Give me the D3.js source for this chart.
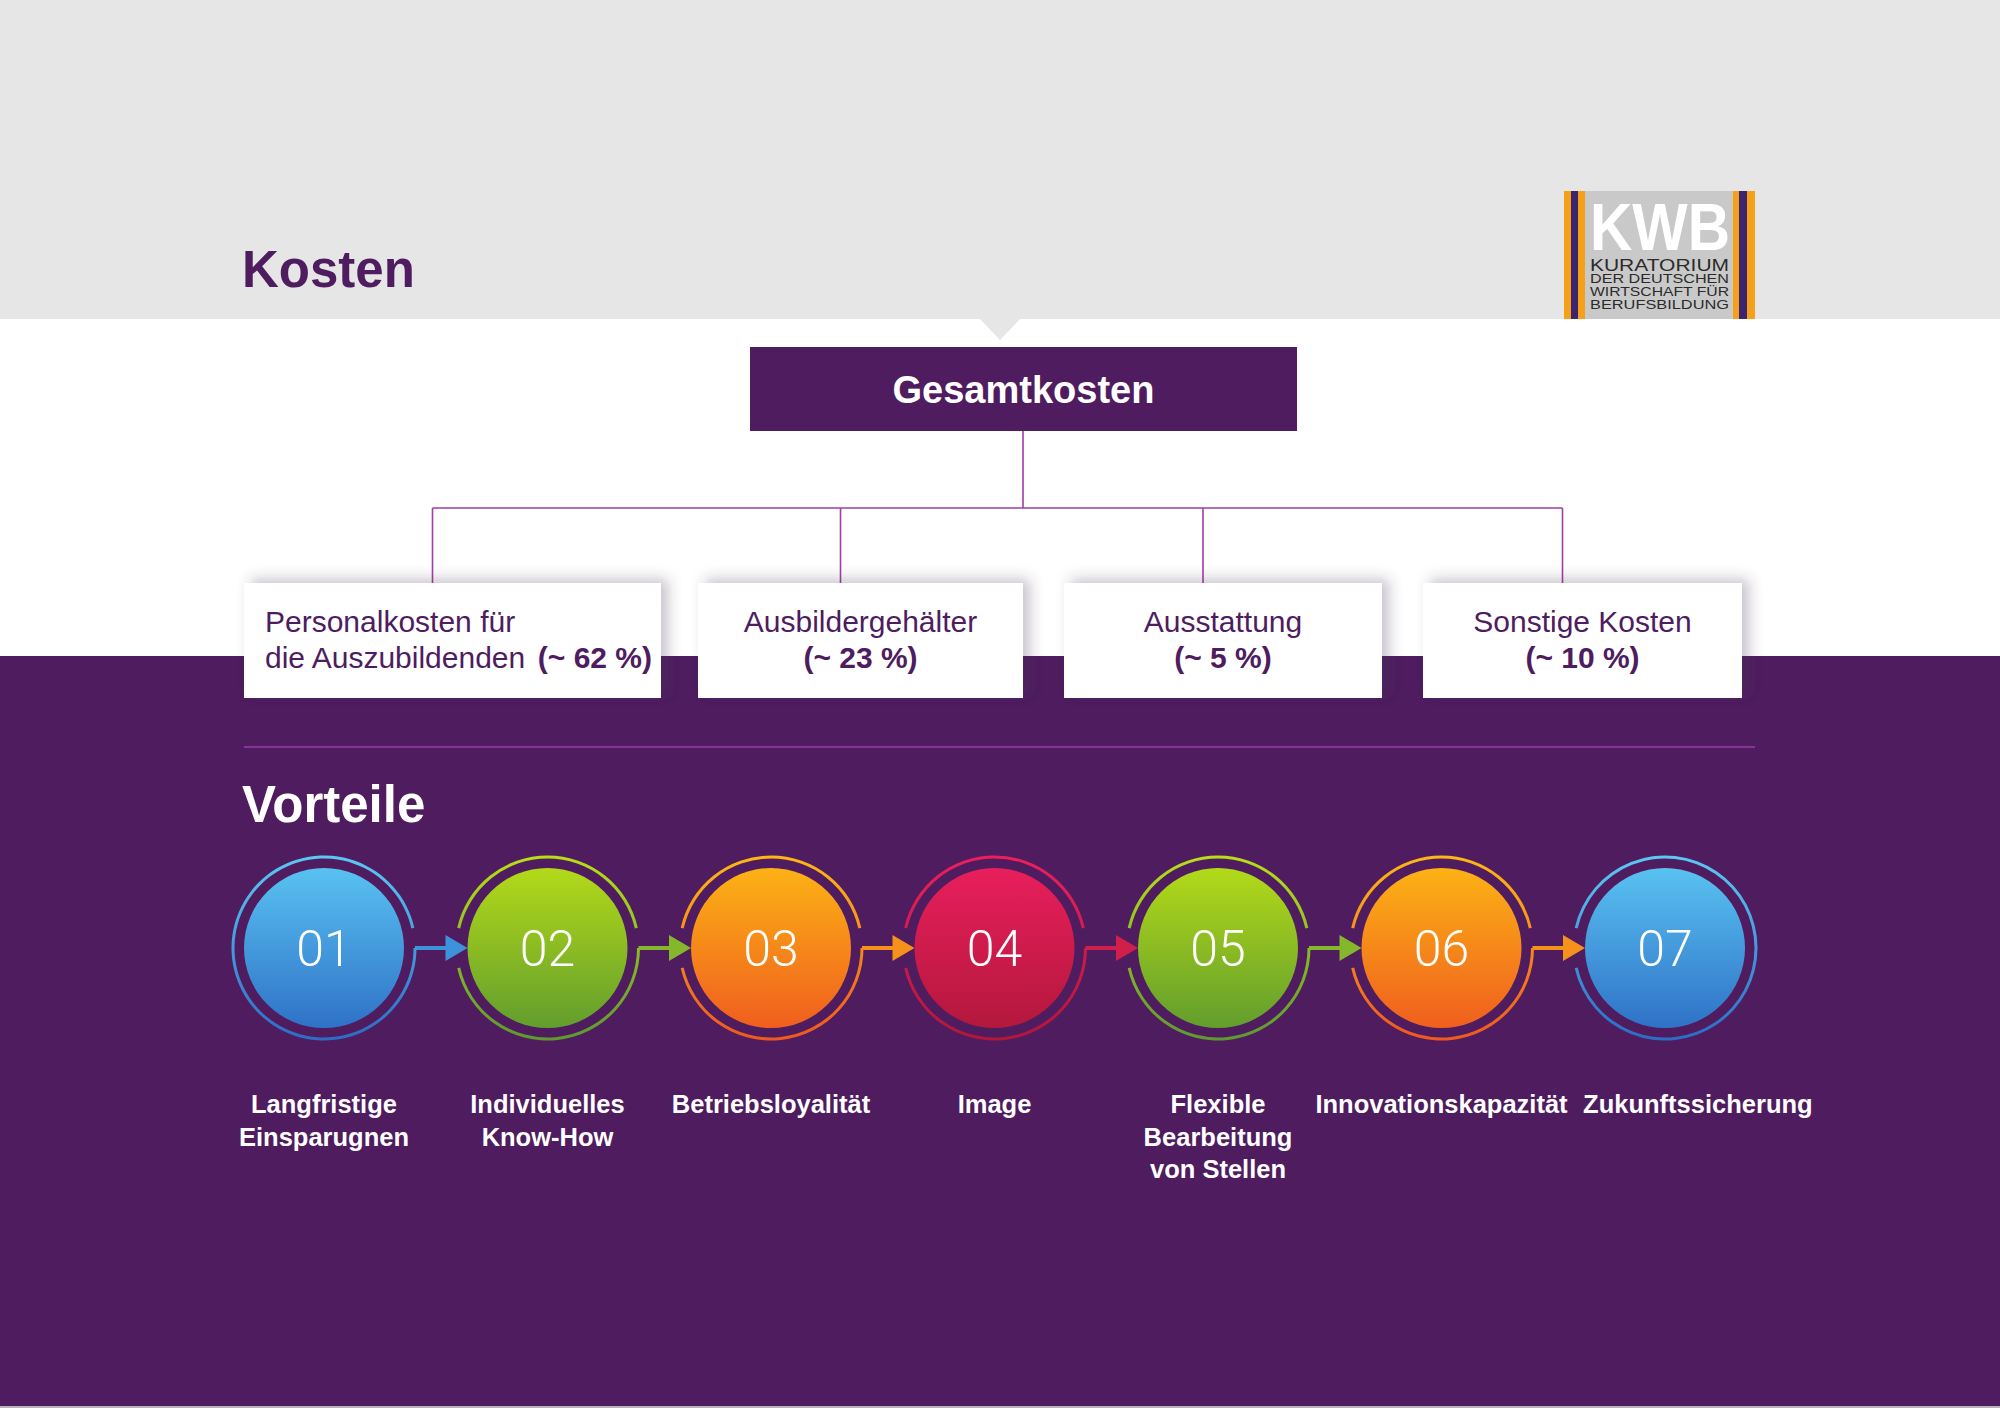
<!DOCTYPE html>
<html>
<head>
<meta charset="utf-8">
<script src="https://cdn.jsdelivr.net/npm/d3@7"></script>
<style>
  body { margin: 0; background: #fff; }
  svg { display: block; font-family: "Liberation Sans", Arial, sans-serif; }
</style>
</head>
<body>
<div id="chart"></div>
<script>
// data
const costLabels = [["Personalkosten für", "die Auszubildenden"], ["Ausbildergehälter"], ["Ausstattung"], ["Sonstige Kosten"]];
const costShares = [62, 23, 5, 10];
const benefitNums = ["01", "02", "03", "04", "05", "06", "07"];
const benefitLabels = [
  ["Langfristige", "Einsparugnen"],
  ["Individuelles", "Know-How"],
  ["Betriebsloyalität"],
  ["Image"],
  ["Flexible", "Bearbeitung", "von Stellen"],
  ["Innovationskapazität"],
  ["Zukunftssicherung"]
];
const benefitColors = ["blue", "green", "orange", "red", "green", "orange", "blue"];
const logoLines = ["KURATORIUM", "DER DEUTSCHEN", "WIRTSCHAFT FÜR", "BERUFSBILDUNG"];

function init(){

var w = 2000;
var h = 1408;
var purple = "#4e1c5f";
var lineCol = "#a03ca6";

var palette = {
  blue:   {top: "#5cc8f4", bottom: "#2c6cc4", arrow: "#3e92dc"},
  green:  {top: "#b9de17", bottom: "#5d992f", arrow: "#84b82a"},
  orange: {top: "#fdb814", bottom: "#ef581f", arrow: "#f6911b"},
  red:    {top: "#ec1f5e", bottom: "#b0173a", arrow: "#d01f4b"}
};

let svg = d3.select("#chart")
    .append("svg")
    .attr("width", w)
    .attr("height", h);

let defs = svg.append("defs");

Object.keys(palette).forEach(function(k){
    let g = defs.append("linearGradient")
        .attr("id", "grad-" + k)
        .attr("gradientUnits", "userSpaceOnUse")
        .attr("x1", 0).attr("y1", -92)
        .attr("x2", 0).attr("y2", 92);
    g.append("stop").attr("offset", "0%").attr("stop-color", palette[k].top);
    g.append("stop").attr("offset", "100%").attr("stop-color", palette[k].bottom);
});

defs.append("filter")
    .attr("id", "shadow")
    .attr("x", "-20%").attr("y", "-30%")
    .attr("width", "140%").attr("height", "160%")
    .append("feDropShadow")
    .attr("dx", 7).attr("dy", -4)
    .attr("stdDeviation", 7)
    .attr("flood-color", "#4a3a55")
    .attr("flood-opacity", 0.3);

// backgrounds
svg.append("rect").attr("x", 0).attr("y", 0).attr("width", w).attr("height", 319).attr("fill", "#e6e6e6");
svg.append("path").attr("d", "M979,318 L1021,318 L1000,340 Z").attr("fill", "#e6e6e6");
svg.append("rect").attr("x", 0).attr("y", 656).attr("width", w).attr("height", 750).attr("fill", purple);
svg.append("rect").attr("x", 0).attr("y", 1406).attr("width", w).attr("height", 2).attr("fill", "#b9b2bd");

svg.append("text")
    .text("Kosten")
    .attr("x", 242).attr("y", 287)
    .attr("font-size", 51)
    .attr("font-weight", "bold")
    .attr("fill", purple);

// logo
let logo = svg.append("g");
[["#f6a01a", 1564, 7], ["#3b2470", 1571, 7], ["#f6a01a", 1578, 7],
 ["#f6a01a", 1733, 6], ["#3b2470", 1739, 8], ["#f6a01a", 1747, 8]].forEach(function(s){
    logo.append("rect").attr("x", s[1]).attr("y", 191).attr("width", s[2]).attr("height", 128).attr("fill", s[0]);
});
logo.append("rect").attr("x", 1585).attr("y", 191).attr("width", 148).attr("height", 128).attr("fill", "#c9c9c9");
logo.append("text").text("KWB")
    .attr("x", 1590).attr("y", 250)
    .attr("font-size", 66).attr("font-weight", "bold")
    .attr("textLength", 140).attr("lengthAdjust", "spacingAndGlyphs")
    .attr("fill", "#fff");

var logoY = [271, 283, 295.5, 308.5];
var logoSize = [16, 13, 13, 13.5];
logo.selectAll("text.sub")
    .data(logoLines)
    .enter()
    .append("text")
    .attr("class", "sub")
    .attr("x", 1590)
    .attr("y", function(d, i){ return logoY[i]; })
    .attr("font-size", function(d, i){ return logoSize[i]; })
    .attr("textLength", 139)
    .attr("lengthAdjust", "spacingAndGlyphs")
    .attr("fill", "#2b2b2b")
    .text(function(d){ return d; });

// tree
var boxes = [[244, 661], [698, 1023], [1064, 1382], [1423, 1742]];
var boxTop = 583, boxBottom = 698;
var drops = boxes.map(function(b){ return (b[0] + b[1]) / 2 - 20; });

svg.append("rect")
    .attr("x", 750).attr("y", 347)
    .attr("width", 547).attr("height", 84)
    .attr("fill", purple);
svg.append("text")
    .text("Gesamtkosten")
    .attr("x", 1023.5).attr("y", 403)
    .attr("text-anchor", "middle")
    .attr("font-size", 38)
    .attr("font-weight", "bold")
    .attr("fill", "#fff");

let tree = svg.append("g").attr("stroke", lineCol).attr("stroke-width", 1.6).attr("fill", "none");
tree.append("line").attr("x1", 1023).attr("x2", 1023).attr("y1", 431).attr("y2", 508);
tree.append("line").attr("x1", d3.min(drops)).attr("x2", d3.max(drops)).attr("y1", 508).attr("y2", 508);
tree.selectAll("line.drop")
    .data(drops)
    .enter()
    .append("line")
    .attr("class", "drop")
    .attr("x1", function(d){ return d; })
    .attr("x2", function(d){ return d; })
    .attr("y1", 508)
    .attr("y2", boxTop);

let boxG = svg.selectAll("g.costbox")
    .data(costLabels)
    .enter()
    .append("g")
    .attr("class", "costbox");

boxG.append("rect")
    .attr("x", function(d, i){ return boxes[i][0]; })
    .attr("y", boxTop)
    .attr("width", function(d, i){ return boxes[i][1] - boxes[i][0]; })
    .attr("height", boxBottom - boxTop)
    .attr("fill", "#fff")
    .attr("filter", "url(#shadow)");

boxG.each(function(d, i){
    let g = d3.select(this);
    let b = boxes[i];
    let pct = "(~ " + costShares[i] + " %)";
    if (d.length > 1) {
        g.append("text").text(d[0])
            .attr("x", b[0] + 21).attr("y", 632)
            .attr("font-size", 30).attr("fill", purple);
        g.append("text").text(d[1])
            .attr("x", b[0] + 21).attr("y", 668)
            .attr("font-size", 30).attr("fill", purple);
        g.append("text").text(pct)
            .attr("x", b[1] - 9).attr("y", 668)
            .attr("text-anchor", "end")
            .attr("font-size", 30).attr("font-weight", "bold").attr("fill", purple);
    } else {
        let cx = (b[0] + b[1]) / 2;
        g.append("text").text(d[0])
            .attr("x", cx).attr("y", 632)
            .attr("text-anchor", "middle")
            .attr("font-size", 30).attr("fill", purple);
        g.append("text").text(pct)
            .attr("x", cx).attr("y", 668)
            .attr("text-anchor", "middle")
            .attr("font-size", 30).attr("font-weight", "bold").attr("fill", purple);
    }
});

// Vorteile
svg.append("line")
    .attr("x1", 244).attr("x2", 1755)
    .attr("y1", 747).attr("y2", 747)
    .attr("stroke", "#9a3ea9").attr("stroke-width", 1.6);

svg.append("text")
    .text("Vorteile")
    .attr("x", 242).attr("y", 822)
    .attr("font-size", 51)
    .attr("font-weight", "bold")
    .attr("fill", "#fff");

var x = d3.scalePoint()
    .domain(benefitNums)
    .range([324, 1665]);

var cy = 948;
var r = 80;
var ringR = 91;

var arc = d3.arc().innerRadius(ringR - 1.5).outerRadius(ringR + 1.5);

// arrows
var links = benefitNums.slice(0, -1);
let arrows = svg.selectAll("g.arrow")
    .data(links)
    .enter()
    .append("g")
    .attr("class", "arrow")
    .attr("fill", function(d, i){ return palette[benefitColors[i]].arrow; })
    .attr("stroke", function(d, i){ return palette[benefitColors[i]].arrow; });

arrows.append("line")
    .attr("x1", function(d){ return x(d) + ringR; })
    .attr("x2", function(d, i){ return x(benefitNums[i + 1]) - r - 20; })
    .attr("y1", cy).attr("y2", cy)
    .attr("stroke-width", 4);

arrows.append("path")
    .attr("stroke", "none")
    .attr("d", function(d, i){
        let tip = x(benefitNums[i + 1]) - r;
        return "M" + (tip - 22) + "," + (cy - 13) + " L" + tip + "," + cy + " L" + (tip - 22) + "," + (cy + 13) + " Z";
    });

let nodes = svg.selectAll("g.node")
    .data(benefitNums)
    .enter()
    .append("g")
    .attr("class", "node")
    .attr("transform", function(d){ return "translate(" + x(d) + "," + cy + ")"; });

nodes.each(function(d, i){
    let g = d3.select(this);
    let fill = "url(#grad-" + benefitColors[i] + ")";
    let gaps = [];
    if (i < benefitNums.length - 1) gaps.push([Math.PI / 2 - 0.22, Math.PI / 2]);
    if (i > 0) gaps.push([3 * Math.PI / 2 - 0.22, 3 * Math.PI / 2 + 0.22]);
    gaps.forEach(function(gap, k){
        let next = gaps[(k + 1) % gaps.length];
        let end = next[0];
        while (end <= gap[1]) end += 2 * Math.PI;
        g.append("path")
            .attr("d", arc({startAngle: gap[1], endAngle: end}))
            .attr("fill", fill);
    });
    g.append("circle")
        .attr("r", r)
        .attr("fill", fill);
    g.append("text")
        .text(d)
        .attr("text-anchor", "middle")
        .attr("dy", "0.36em")
        .attr("font-family", "Roboto, 'Liberation Sans', sans-serif")
        .attr("font-weight", 300)
        .attr("font-size", 50)
        .attr("fill", "#fff");
});

let labels = svg.selectAll("text.label")
    .data(benefitLabels)
    .enter()
    .append("text")
    .attr("class", "label")
    .attr("x", function(d, i){ return x(benefitNums[i]); })
    .attr("y", 1113)
    .attr("text-anchor", "middle")
    .attr("font-size", 25.5)
    .attr("font-weight", "bold")
    .attr("fill", "#fff");

labels.selectAll("tspan")
    .data(function(d){ return d; })
    .enter()
    .append("tspan")
    .attr("x", function(){ return d3.select(this.parentNode).attr("x"); })
    .attr("dy", function(d, j){ return j === 0 ? 0 : 32.5; })
    .text(function(d){ return d; });

// push labels right if they run into the previous one
let prevRight = -Infinity;
labels.each(function(){
    let bb = this.getBBox();
    let shift = prevRight + 15 - bb.x;
    if (shift > 0) {
        let nx = +d3.select(this).attr("x") + shift;
        d3.select(this).attr("x", nx).selectAll("tspan").attr("x", nx);
        bb = this.getBBox();
    }
    prevRight = bb.x + bb.width;
});

}

window.onload = init;
</script>
</body>
</html>
